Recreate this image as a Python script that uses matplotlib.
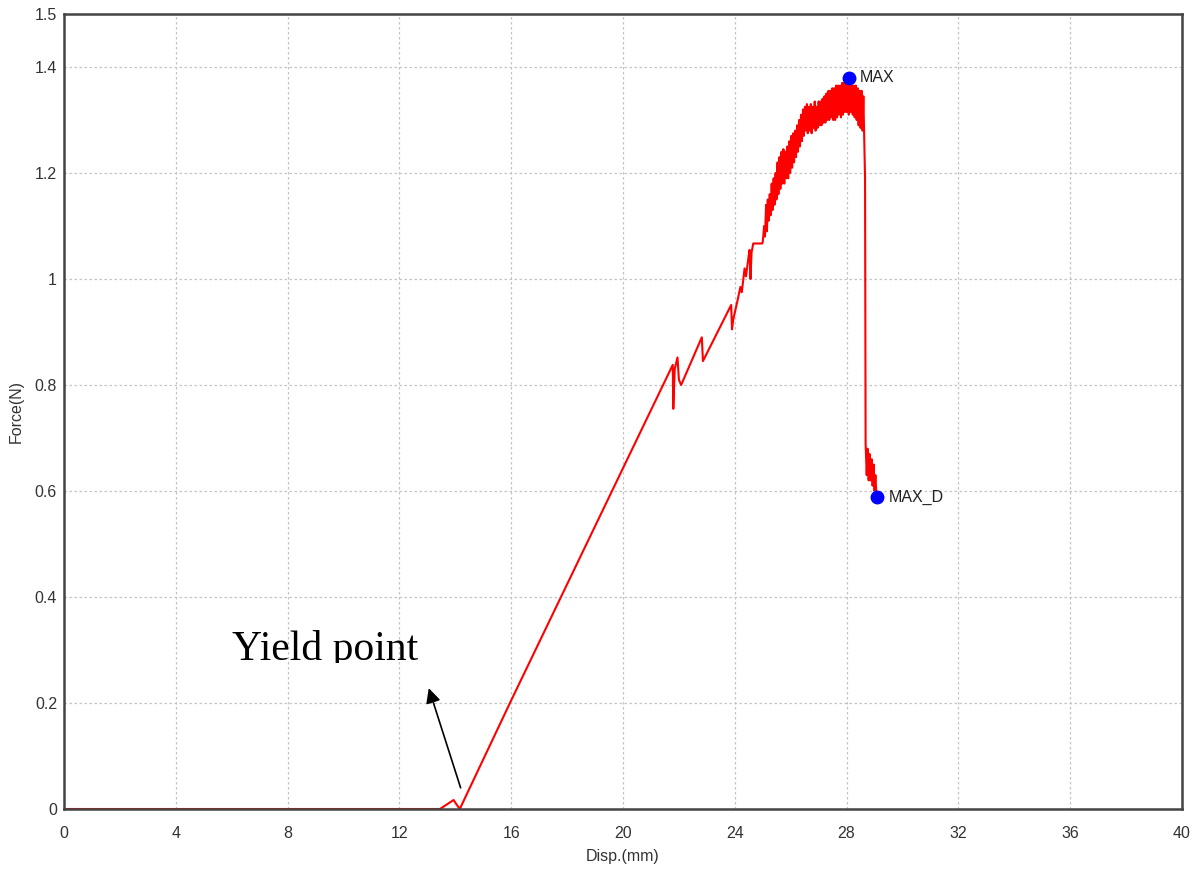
import numpy as np
import matplotlib
matplotlib.use("Agg")
from matplotlib import pyplot as plt
from matplotlib.patches import Rectangle

# ---- data ----
# start + linear part
disp_a = [0.0, 0.0, 13.45, 13.94, 14.0, 14.16, 16.0, 21.78, 21.80, 21.85, 21.95,
          22.0, 22.08, 22.82, 22.86, 23.87, 23.90, 23.95, 24.10, 24.20, 24.25,
          24.35, 24.40, 24.50, 24.53, 24.56, 24.60, 24.66, 24.98]
force_a = [0.04, 0.0, 0.0, 0.017, 0.012, 0.0, 0.205, 0.838, 0.755, 0.83, 0.852,
           0.81, 0.80, 0.89, 0.845, 0.951, 0.905, 0.925, 0.96, 0.985, 0.975,
           1.02, 1.005, 1.045, 1.055, 1.0, 1.05, 1.067, 1.067]

# noisy plastic part up to the break
disp_b = [25.00, 25.05, 25.08, 25.12, 25.15, 25.18, 25.21, 25.25, 25.28, 25.32,
          25.35, 25.39, 25.42, 25.46, 25.49, 25.53, 25.56, 25.60, 25.63, 25.67,
          25.70, 25.74, 25.77, 25.81, 25.84, 25.88, 25.91, 25.95, 25.98, 26.02,
          26.05, 26.09, 26.12, 26.16, 26.19, 26.23, 26.26, 26.30, 26.33, 26.37,
          26.40, 26.44, 26.47, 26.51, 26.54, 26.58, 26.61, 26.65, 26.68, 26.72,
          26.75, 26.79, 26.82, 26.86, 26.89, 26.93, 26.96, 27.00, 27.03, 27.07,
          27.10, 27.14, 27.17, 27.21, 27.24, 27.28, 27.31, 27.35, 27.38, 27.42,
          27.45, 27.49, 27.52, 27.56, 27.59, 27.63, 27.66, 27.70, 27.73, 27.77,
          27.80, 27.84, 27.87, 27.91, 27.94, 27.98, 28.01, 28.05, 28.08, 28.12,
          28.15, 28.19, 28.22, 28.26, 28.29, 28.33, 28.36, 28.40, 28.43, 28.47,
          28.50, 28.54, 28.57, 28.60, 28.62, 28.64, 28.66]
force_b = [1.07, 1.10, 1.08, 1.14, 1.09, 1.15, 1.11, 1.16, 1.12, 1.18,
           1.13, 1.19, 1.14, 1.20, 1.15, 1.22, 1.16, 1.23, 1.17, 1.24,
           1.18, 1.245, 1.18, 1.24, 1.19, 1.25, 1.19, 1.26, 1.20, 1.27,
           1.21, 1.275, 1.22, 1.28, 1.23, 1.29, 1.24, 1.30, 1.25, 1.31,
           1.26, 1.32, 1.27, 1.325, 1.28, 1.33, 1.275, 1.325, 1.28, 1.33,
           1.275, 1.325, 1.285, 1.335, 1.28, 1.325, 1.285, 1.335, 1.29, 1.335,
           1.29, 1.34, 1.295, 1.345, 1.295, 1.35, 1.30, 1.355, 1.30, 1.355,
           1.305, 1.36, 1.30, 1.36, 1.30, 1.365, 1.305, 1.365, 1.31, 1.365,
           1.305, 1.37, 1.31, 1.37, 1.315, 1.37, 1.315, 1.375, 1.31, 1.37,
           1.315, 1.365, 1.31, 1.365, 1.305, 1.365, 1.30, 1.36, 1.29, 1.355,
           1.285, 1.355, 1.28, 1.345, 1.29, 1.23, 1.19]

# after the break
disp_c = [28.68, 28.72, 28.75, 28.79, 28.82, 28.86, 28.90, 28.93, 28.97, 29.00,
          29.03, 29.07]
force_c = [0.69, 0.63, 0.68, 0.62, 0.67, 0.62, 0.66, 0.61, 0.65, 0.60,
           0.63, 0.59]

mark_names = ["MAX", "MAX_D"]
mark_disp = [28.07, 29.1]
mark_force = [1.38, 0.588]

x_ticks = [0, 4, 8, 12, 16, 20, 24, 28, 32, 36, 40]
y_ticks = [0, 0.2, 0.4, 0.6, 0.8, 1.0, 1.2, 1.4, 1.5]
y_labels = ["0", "0.2", "0.4", "0.6", "0.8", "1", "1.2", "1.4", "1.5"]

disp = disp_a + disp_b + disp_c
force = force_a + force_b + force_c

plt.rcParams['font.family'] = ['Liberation Sans', 'DejaVu Sans']

fig = plt.figure(figsize=(12.02, 8.71), dpi=100)
ax = fig.add_axes([64/1202, 62/871, 1118/1202, 795/871])

ax.plot(disp, force, color='#ff0000', lw=1.5, zorder=2)
ax.plot(mark_disp, mark_force, 'o', color='#0000ff', ms=9, zorder=4, clip_on=False)
for name, xd, yf in zip(mark_names, mark_disp, mark_force):
    ax.text(xd + 0.4, yf, name, fontsize=11.5, color='#222222', va='center', ha='left')

ax.set_xlim(0, 40)
ax.set_ylim(0, 1.5)
ax.set_xticks(x_ticks)
ax.set_yticks(y_ticks)
ax.set_yticklabels(y_labels)
ax.grid(True, color='#c4c4c4', linestyle=(0, (2, 2)), lw=0.9)
ax.tick_params(length=0, labelsize=11.5, labelcolor='#333333')
ax.tick_params(axis='x', pad=12)
ax.tick_params(axis='y', pad=5)
for s in ax.spines.values():
    s.set_color('#444444')
    s.set_linewidth(1.8)

ax.set_xlabel('Disp.(mm)', fontsize=11.5, color='#333333', labelpad=6)
ax.set_ylabel('Force(N)', fontsize=11.5, color='#333333', labelpad=8)

# pasted annotation: text with clipped descenders, plus arrow
t = ax.text(6.02, 0.281, 'Yield point', fontsize=30, family='Liberation Serif',
            color='black', ha='left', va='baseline', clip_on=True)
clip = Rectangle((0, 0.2755), 40, 1.0, transform=ax.transData)
t.set_clip_path(clip)
ax.annotate('', xy=(13.05, 0.228), xytext=(14.19, 0.04),
            arrowprops=dict(arrowstyle='-|>', color='black', lw=1.2,
                            mutation_scale=22, shrinkA=0, shrinkB=0))

fig.savefig('out.png', dpi=100)
